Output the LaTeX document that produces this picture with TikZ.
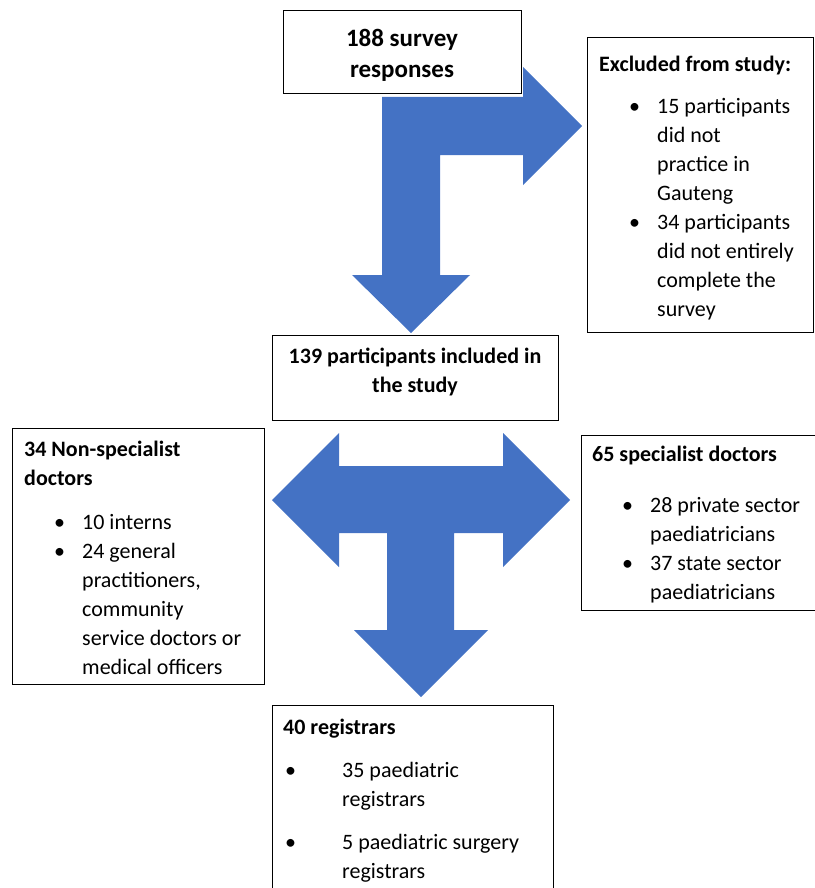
\documentclass[tikz,border=0pt]{standalone}
\usepackage{fontspec}
\setmainfont{Carlito}
\usepackage{tikz}
\usepackage{color}
\definecolor{arrowblue}{HTML}{4472C4}
\newcommand{\bitem}[1]{\hspace*{30pt}\makebox[28pt][l]{\textbullet}#1}
\newcommand{\bcont}[1]{\hspace*{58pt}#1}
\newcommand{\ritem}[1]{\hspace*{2pt}\makebox[57pt][l]{\textbullet}#1}
\newcommand{\rcont}[1]{\hspace*{59pt}#1}

\begin{document}
\begin{tikzpicture}[x=1pt,y=-1pt,
  box/.style={draw=black, fill=white, line width=1.1pt, anchor=north west, inner sep=0pt},
  txt/.style={anchor=north west, inner sep=0pt, align=left, font=\fontsize{22}{29}\selectfont},
  head/.style={anchor=north, inner sep=0pt, align=center, font=\bfseries\fontsize{22}{29}\selectfont}]
\useasboundingbox (0,0) rectangle (814,888);

\fill[arrowblue] (382,97) -- (523,97) -- (523,67) -- (582,126) -- (523,185) -- (523,155) -- (440,155) -- (440,275) -- (470,275) -- (411,333) -- (352,275) -- (382,275) -- cycle;
\fill[arrowblue] (339,466) -- (503,466) -- (503,433) -- (570,500) -- (503,567) -- (503,533) -- (454,533) -- (454,630) -- (488,630) -- (421,697) -- (354,630) -- (387,630) -- (387,533) -- (339,533) -- (339,567) -- (272,500) -- (339,433) -- cycle;

\node[box, minimum width=238pt, minimum height=83pt] (survey) at (283,10) {};
\node[box, minimum width=286pt, minimum height=85pt] (included) at (272,335) {};
\node[box, minimum width=226pt, minimum height=295pt] (excluded) at (587,37) {};
\node[box, minimum width=252pt, minimum height=256pt] (nonspec) at (12,428) {};
\node[box, minimum width=240pt, minimum height=175pt] (spec) at (581,435) {};
\node[box, minimum width=281pt, minimum height=200pt] (registrars) at (272,705) {};

\node[head, font=\bfseries\fontsize{25}{31}\selectfont] (survey-t) at (402,25) {\strut 188 survey\\ responses};
\node[head] (included-t) at (415,343) {\strut 139 participants included in\\ the study};
\node[txt] (excluded-t) at (599,51) {\strut\textbf{Excluded from study:}\\[13pt]
  \bitem{15 participants}\\ \bcont{did not}\\ \bcont{practice in}\\ \bcont{Gauteng}\\
  \bitem{34 participants}\\ \bcont{did not entirely}\\ \bcont{complete the}\\ \bcont{survey}};
\node[txt] (nonspec-t) at (24,436) {\strut\textbf{34 Non-specialist}\\ \textbf{doctors}\\[15pt]
  \bitem{10 interns}\\ \bitem{24 general}\\ \bcont{practitioners,}\\ \bcont{community}\\
  \bcont{service doctors or}\\ \bcont{medical officers}};
\node[txt] (spec-t) at (592,441) {\strut\textbf{65 specialist doctors}\\[22pt]
  \bitem{28 private sector}\\ \bcont{paediatricians}\\ \bitem{37 state sector}\\ \bcont{paediatricians}};
\node[txt] (registrars-t) at (283,714) {\strut\textbf{40 registrars}\\[14pt]
  \ritem{35 paediatric}\\ \rcont{registrars}\\[14pt] \ritem{5 paediatric surgery}\\ \rcont{registrars}};
\end{tikzpicture}
\end{document}
